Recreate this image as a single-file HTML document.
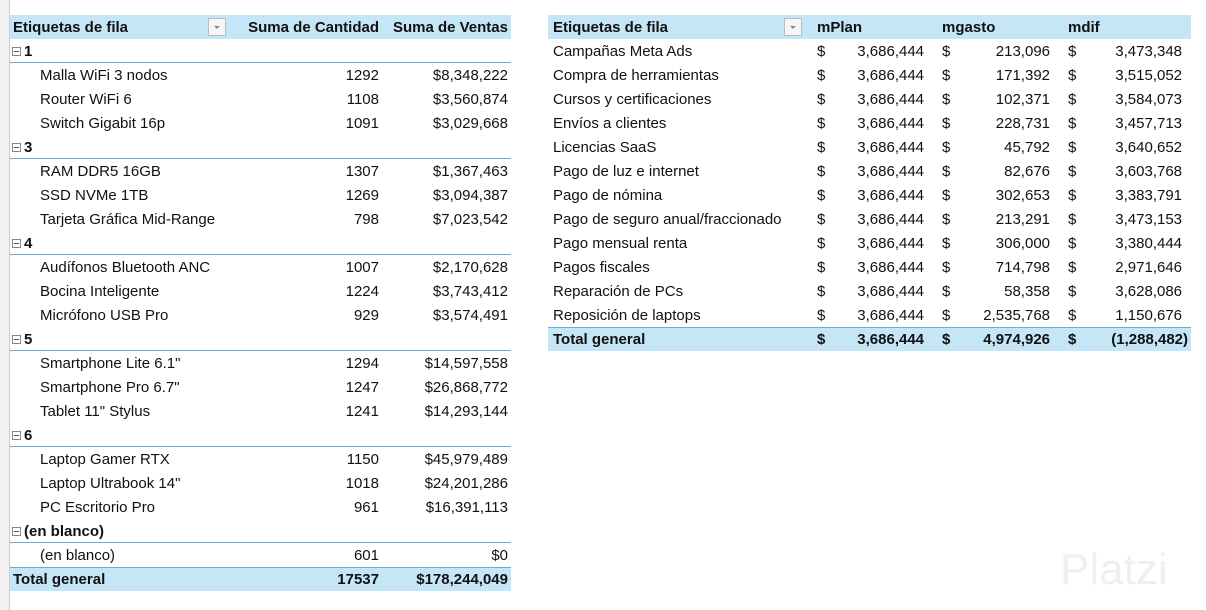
<!DOCTYPE html>
<html><head><meta charset="utf-8"><style>
body{margin:0;width:1206px;height:610px;background:#fff;position:relative;overflow:hidden;font-family:"Liberation Sans",sans-serif;font-size:15px;color:#111}
.t{position:absolute;border-collapse:collapse;table-layout:fixed}
.t tr{height:24px}
.t td{height:22px;padding:2px 0 0 0;white-space:nowrap;line-height:22px;overflow:hidden;border:0;vertical-align:top}
.h td{background:#c4e6f6;font-weight:bold}
.tot td{background:#c4e6f6;font-weight:bold;box-shadow:inset 0 1px #6aaed0}
.g td{font-weight:bold;box-shadow:inset 0 -1px #6aaed0}
.r{text-align:right}
.c{padding-left:30px!important}
.p{padding-left:18px!important}
.dd{display:inline-block;width:16px;height:16px;border:1px solid #bbb;background:#f6f6f6;vertical-align:middle;position:relative;top:-1px}
.dd:after{content:"";position:absolute;left:5px;top:7px;border-left:3px solid transparent;border-right:3px solid transparent;border-top:3px solid #888}
.m{display:inline-block;width:7px;height:7px;border:1px solid #888;margin:0 3px 0 2px;position:relative;vertical-align:middle;top:-1px}
.m:after{content:"";position:absolute;left:1px;top:3px;width:5px;height:1px;background:#555}
</style></head><body>
<div style="position:absolute;left:0;top:0;width:9px;height:610px;background:#f2f2f2;border-right:1px solid #ccc"></div>
<table class="t" style="left:10px;top:15px;width:501px">
<col style="width:227px"><col style="width:142px"><col style="width:132px">
<tr class="h"><td style="padding-left:3px">Etiquetas de fila <span style="display:inline-block;width:76px"></span><span class="dd"></span></td><td class="r">Suma de Cantidad</td><td class="r" style="padding-right:3px">Suma de Ventas</td></tr>
<tr class="g"><td><span class="m"></span>1</td><td></td><td></td></tr>
<tr><td class="c">Malla WiFi 3 nodos</td><td class="r">1292</td><td class="r" style="padding-right:3px">$8,348,222</td></tr>
<tr><td class="c">Router WiFi 6</td><td class="r">1108</td><td class="r" style="padding-right:3px">$3,560,874</td></tr>
<tr><td class="c">Switch Gigabit 16p</td><td class="r">1091</td><td class="r" style="padding-right:3px">$3,029,668</td></tr>
<tr class="g"><td><span class="m"></span>3</td><td></td><td></td></tr>
<tr><td class="c">RAM DDR5 16GB</td><td class="r">1307</td><td class="r" style="padding-right:3px">$1,367,463</td></tr>
<tr><td class="c">SSD NVMe 1TB</td><td class="r">1269</td><td class="r" style="padding-right:3px">$3,094,387</td></tr>
<tr><td class="c">Tarjeta Gráfica Mid-Range</td><td class="r">798</td><td class="r" style="padding-right:3px">$7,023,542</td></tr>
<tr class="g"><td><span class="m"></span>4</td><td></td><td></td></tr>
<tr><td class="c">Audífonos Bluetooth ANC</td><td class="r">1007</td><td class="r" style="padding-right:3px">$2,170,628</td></tr>
<tr><td class="c">Bocina Inteligente</td><td class="r">1224</td><td class="r" style="padding-right:3px">$3,743,412</td></tr>
<tr><td class="c">Micrófono USB Pro</td><td class="r">929</td><td class="r" style="padding-right:3px">$3,574,491</td></tr>
<tr class="g"><td><span class="m"></span>5</td><td></td><td></td></tr>
<tr><td class="c">Smartphone Lite 6.1"</td><td class="r">1294</td><td class="r" style="padding-right:3px">$14,597,558</td></tr>
<tr><td class="c">Smartphone Pro 6.7"</td><td class="r">1247</td><td class="r" style="padding-right:3px">$26,868,772</td></tr>
<tr><td class="c">Tablet 11" Stylus</td><td class="r">1241</td><td class="r" style="padding-right:3px">$14,293,144</td></tr>
<tr class="g"><td><span class="m"></span>6</td><td></td><td></td></tr>
<tr><td class="c">Laptop Gamer RTX</td><td class="r">1150</td><td class="r" style="padding-right:3px">$45,979,489</td></tr>
<tr><td class="c">Laptop Ultrabook 14"</td><td class="r">1018</td><td class="r" style="padding-right:3px">$24,201,286</td></tr>
<tr><td class="c">PC Escritorio Pro</td><td class="r">961</td><td class="r" style="padding-right:3px">$16,391,113</td></tr>
<tr class="g"><td><span class="m"></span>(en blanco)</td><td></td><td></td></tr>
<tr><td class="c">(en blanco)</td><td class="r">601</td><td class="r" style="padding-right:3px">$0</td></tr>
<tr class="tot"><td style="padding-left:3px">Total general</td><td class="r">17537</td><td class="r" style="padding-right:3px">$178,244,049</td></tr>
</table>

<table class="t" style="left:548px;top:15px;width:643px">
<col style="width:269px"><col style="width:20px"><col style="width:87px"><col style="width:38px"><col style="width:88px"><col style="width:38px"><col style="width:103px">
<tr class="h"><td style="padding-left:5px">Etiquetas de fila<span style="display:inline-block;width:116px"></span><span class="dd"></span></td><td colspan="2">mPlan</td><td colspan="2" class="p">mgasto</td><td colspan="2" class="p">mdif</td></tr>
<tr><td style="padding-left:5px">Campañas Meta Ads</td><td>$</td><td class="r">3,686,444</td><td class="p">$</td><td class="r">213,096</td><td class="p">$</td><td class="r" style="padding-right:9px">3,473,348</td></tr>
<tr><td style="padding-left:5px">Compra de herramientas</td><td>$</td><td class="r">3,686,444</td><td class="p">$</td><td class="r">171,392</td><td class="p">$</td><td class="r" style="padding-right:9px">3,515,052</td></tr>
<tr><td style="padding-left:5px">Cursos y certificaciones</td><td>$</td><td class="r">3,686,444</td><td class="p">$</td><td class="r">102,371</td><td class="p">$</td><td class="r" style="padding-right:9px">3,584,073</td></tr>
<tr><td style="padding-left:5px">Envíos a clientes</td><td>$</td><td class="r">3,686,444</td><td class="p">$</td><td class="r">228,731</td><td class="p">$</td><td class="r" style="padding-right:9px">3,457,713</td></tr>
<tr><td style="padding-left:5px">Licencias SaaS</td><td>$</td><td class="r">3,686,444</td><td class="p">$</td><td class="r">45,792</td><td class="p">$</td><td class="r" style="padding-right:9px">3,640,652</td></tr>
<tr><td style="padding-left:5px">Pago de luz e internet</td><td>$</td><td class="r">3,686,444</td><td class="p">$</td><td class="r">82,676</td><td class="p">$</td><td class="r" style="padding-right:9px">3,603,768</td></tr>
<tr><td style="padding-left:5px">Pago de nómina</td><td>$</td><td class="r">3,686,444</td><td class="p">$</td><td class="r">302,653</td><td class="p">$</td><td class="r" style="padding-right:9px">3,383,791</td></tr>
<tr><td style="padding-left:5px">Pago de seguro anual/fraccionado</td><td>$</td><td class="r">3,686,444</td><td class="p">$</td><td class="r">213,291</td><td class="p">$</td><td class="r" style="padding-right:9px">3,473,153</td></tr>
<tr><td style="padding-left:5px">Pago mensual renta</td><td>$</td><td class="r">3,686,444</td><td class="p">$</td><td class="r">306,000</td><td class="p">$</td><td class="r" style="padding-right:9px">3,380,444</td></tr>
<tr><td style="padding-left:5px">Pagos fiscales</td><td>$</td><td class="r">3,686,444</td><td class="p">$</td><td class="r">714,798</td><td class="p">$</td><td class="r" style="padding-right:9px">2,971,646</td></tr>
<tr><td style="padding-left:5px">Reparación de PCs</td><td>$</td><td class="r">3,686,444</td><td class="p">$</td><td class="r">58,358</td><td class="p">$</td><td class="r" style="padding-right:9px">3,628,086</td></tr>
<tr><td style="padding-left:5px">Reposición de laptops</td><td>$</td><td class="r">3,686,444</td><td class="p">$</td><td class="r">2,535,768</td><td class="p">$</td><td class="r" style="padding-right:9px">1,150,676</td></tr>
<tr class="tot"><td style="padding-left:5px">Total general</td><td>$</td><td class="r">3,686,444</td><td class="p">$</td><td class="r">4,974,926</td><td class="p">$</td><td class="r" style="padding-right:3px">(1,288,482)</td></tr>
</table>
<div style="position:absolute;left:1060px;top:545px;font-size:44px;color:#eef0ee;font-family:'Liberation Sans',sans-serif">Platzi</div>
</body></html>
